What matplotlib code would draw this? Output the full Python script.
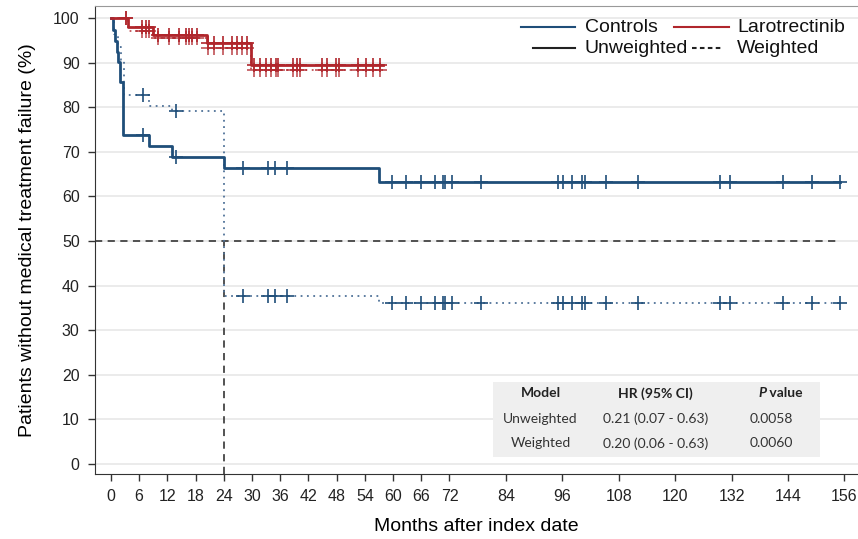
import numpy as np
import matplotlib.pyplot as plt
from matplotlib.patches import Rectangle

# 対照群（非加重）
ctrl_unw_t = [0, 0.4, 0.8, 1.2, 1.6, 2.0, 2.6, 8.1, 13.0, 24.0, 57.0]
ctrl_unw_s = [100, 97.4, 94.9, 92.3, 90.1, 85.6, 73.8, 71.3, 68.8, 66.4, 63.3]
# 対照群（加重）
ctrl_w_t = [0, 0.6, 1.6, 2.1, 2.7, 8.1, 13.0, 24.0, 57.0]
ctrl_w_s = [100, 96.5, 93.5, 90.6, 82.7, 80.3, 79.2, 37.6, 36.1]
ctrl_end = 155.0
ctrl_cens = [6.8, 13.8, 28.0, 33.3, 34.8, 37.4, 59.8, 62.7, 66.0, 68.9, 70.7, 71.0,
             72.6, 78.7, 95.0, 96.2, 98.1, 100.1, 100.9, 105.3, 112.0, 129.6, 131.7,
             143.0, 149.1, 155.0]

# Larotrectinib
laro_t = [0, 3.6, 8.9, 20.4, 29.8]
laro_unw_s = [100, 97.9, 96.1, 94.4, 89.5]
laro_w_s = [100, 97.2, 95.6, 93.2, 88.3]
laro_end = 57.9
laro_cens = [3.3, 6.7, 7.4, 8.1, 10.0, 12.3, 14.5, 16.0, 16.6, 17.2, 18.3, 20.7, 22.0,
             23.8, 25.8, 26.8, 27.8, 28.9, 30.4, 31.7, 32.9, 34.0, 35.0, 35.5, 38.8,
             39.6, 40.3, 44.8, 45.9, 47.8, 48.5, 52.5, 54.3, 55.8, 57.2]

median_level = 50
median_time = 24
median_line_end = 155

xticks = [0, 6, 12, 18, 24, 30, 36, 42, 48, 54, 60, 66, 72, 84, 96, 108, 120, 132, 144, 156]
yticks = list(range(0, 101, 10))

table_header = ["Model", "HR (95% CI)", "value"]
table_rows = [["Unweighted", "0.21 (0.07 - 0.63)", "0.0058"],
              ["Weighted", "0.20 (0.06 - 0.63)", "0.0060"]]

BLUE = '#1f4e79'
BLUE_DOT = '#4f7298'
RED = '#b0262c'
DARK = '#333333'

plt.rcParams['font.family'] = ['Liberation Sans', 'DejaVu Sans']

fig = plt.figure(figsize=(8.58, 5.39), dpi=100)
ax = fig.add_axes([0.1107, 0.1206, 0.8893, 0.8683])
ax.set_xlim(-3.4, 158.9)
ax.set_ylim(-2.24, 102.7)


def km_curve(t, s, end):
    x = list(t) + [end]
    y = list(s) + [s[-1]]
    return x, y


def at_times(t, s, times):
    idx = np.searchsorted(t, times, side='right') - 1
    return np.array(s)[idx]


# グリッド
for y in yticks:
    ax.axhline(y, color='#e8e8e8', lw=1.2, zorder=0)

# 対照群
x, y = km_curve(ctrl_w_t, ctrl_w_s, ctrl_end)
ax.step(x, y, where='post', color=BLUE_DOT, lw=1.3, ls=(0, (1, 2.5)), zorder=2)
ax.plot(ctrl_cens, at_times(ctrl_w_t, ctrl_w_s, ctrl_cens), '+', color=BLUE,
        ms=10, mew=1.2, zorder=3)
x, y = km_curve(ctrl_unw_t, ctrl_unw_s, ctrl_end)
ax.step(x, y, where='post', color=BLUE, lw=2.0, zorder=3)
ax.plot(ctrl_cens, at_times(ctrl_unw_t, ctrl_unw_s, ctrl_cens), '+', color=BLUE,
        ms=10, mew=1.2, zorder=3)

# Larotrectinib
x, y = km_curve(laro_t, laro_w_s, laro_end)
ax.step(x, y, where='post', color=RED, lw=1.3, ls=(0, (1, 2.5)), zorder=2, alpha=0.8)
ax.plot(laro_cens, at_times(laro_t, laro_w_s, laro_cens), '+', color=RED,
        ms=10, mew=1.2, zorder=3, alpha=0.8)
x, y = km_curve(laro_t, laro_unw_s, laro_end)
ax.step(x, y, where='post', color=RED, lw=2.0, zorder=3)
ax.plot(laro_cens, at_times(laro_t, laro_unw_s, laro_cens), '+', color=RED,
        ms=10, mew=1.2, zorder=3)

# 中央値の参照線
ax.plot([ax.get_xlim()[0], median_line_end], [median_level, median_level],
        color='#444444', lw=1.3, ls=(0, (4, 3)), zorder=1)
ax.plot([median_time, median_time], [ax.get_ylim()[0], median_level],
        color='#444444', lw=1.3, ls=(0, (4, 3)), zorder=1)

# 軸
ax.set_xticks(xticks)
ax.set_yticks(yticks)
for lab in ax.get_xticklabels() + ax.get_yticklabels():
    lab.set_fontsize(11.5)
    lab.set_color('#222222')
ax.tick_params(direction='out', length=5, width=1, color=DARK, pad=6)
ax.spines['right'].set_visible(False)
ax.spines['top'].set_color('#999999')
ax.spines['left'].set_color(DARK)
ax.spines['bottom'].set_color(DARK)
ax.set_xlabel('Months after index date', fontsize=14, labelpad=10)
ax.set_ylabel('Patients without medical treatment failure (%)', fontsize=14, labelpad=12)

# 凡例（手動配置）
legend_items = [
    ('Controls', BLUE, '-', 0.5583, 0.6291, 0.6422, 0.955),
    ('Larotrectinib', RED, '-', 0.7589, 0.8309, 0.8414, 0.955),
    ('Unweighted', '#222222', '-', 0.5740, 0.6291, 0.6422, 0.910),
    ('Weighted', '#222222', (0, (2.2, 1.6)), 0.7824, 0.8218, 0.8414, 0.910),
]
for label, color, ls, x0, x1, xt, yy in legend_items:
    ax.plot([x0, x1], [yy, yy], color=color, ls=ls, lw=1.5,
            transform=ax.transAxes, clip_on=False, zorder=6)
    ax.text(xt, yy, label, transform=ax.transAxes, ha='left', va='center',
            fontsize=14, color='#111111', zorder=6)

# 表
ax.add_patch(Rectangle((0.522, 0.036), 0.428, 0.161, transform=ax.transAxes,
                       facecolor='#efefef', edgecolor='none', zorder=4))
col_x = [0.584, 0.735, 0.886]
row_y = [0.1724, 0.1175, 0.0656]
tfont = ['Lato', 'DejaVu Sans']
ax.text(col_x[0], row_y[0], table_header[0], transform=ax.transAxes, ha='center',
        va='center', fontsize=10, fontweight='bold', family=tfont, color='#222222', zorder=5)
ax.text(col_x[1], row_y[0], table_header[1], transform=ax.transAxes, ha='center',
        va='center', fontsize=10, fontweight='bold', family=tfont, color='#222222', zorder=5)
ax.text(0.8794, row_y[0], 'P', transform=ax.transAxes, ha='right', va='center',
        fontsize=10, fontweight='bold', style='italic', family=tfont, color='#222222', zorder=5)
ax.text(0.8794, row_y[0], ' ' + table_header[2], transform=ax.transAxes, ha='left',
        va='center', fontsize=10, fontweight='bold', family=tfont, color='#222222', zorder=5)
for r, row in enumerate(table_rows):
    for c, val in enumerate(row):
        ax.text(col_x[c], row_y[r + 1], val, transform=ax.transAxes, ha='center',
                va='center', fontsize=10, family=tfont, color='#333333', zorder=5)

plt.savefig('out.png', dpi=100)
plt.close()
